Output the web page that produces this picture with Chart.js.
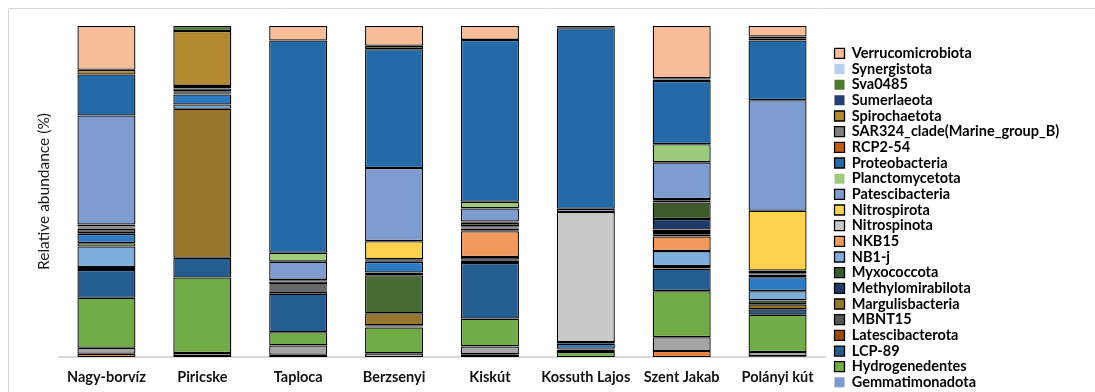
<!DOCTYPE html>
<html>
<head>
<meta charset="utf-8">
<script src="https://cdn.jsdelivr.net/npm/chart.js@4.4.1/dist/chart.umd.min.js"></script>
<style>
html,body{margin:0;padding:0;background:#fff;}
#wrap{width:1095px;height:392px;position:relative;}
</style>
</head>
<body>
<div id="wrap"><canvas id="c" width="1095" height="392"></canvas></div>
<script>
// ---------------- DATA (relative abundance, %) ----------------
const categories = ["Nagy-borvíz","Piricske","Taploca","Berzsenyi","Kiskút","Kossuth Lajos","Szent Jakab","Polányi kút"];

// stack order: bottom first
const unlabelledOrange     = [1.0, 0.3, 0.7, 0,    0.8, 0,    1.8, 0.2];
const unlabelledGrey       = [1.8, 0.9, 2.8, 1.1,  2.4, 0,    4.2, 1.3];
const gemmatimonadota      = [0,   0,   0,   0,    0,   0,    0,   0];
const hydrogenedentes      = [15.1,22.8,4.0, 7.8,  8.4, 1.5,  13.9,11.3];
const lcp89                = [8.4, 6.0, 11.6,0.35, 16.8,0.6,  6.8, 1.6];
const latescibacterota     = [0.3, 0,   0.8, 0.35, 0.6, 0.2,  0.8, 0];
const margulisbacteria     = [0.3, 45.0,0.3, 3.6,  0.2, 0.2,  0,   1.5];
const unlabelledDarkGreen  = [0.3, 0,   0.3, 11.5, 0,   0,    0,   1.2];
const nb1j                 = [6.2, 1.3, 0.3, 0.8,  0.2, 0,    4.5, 2.8];
const unlabelledLightGreen = [1.0, 0,   0,   0,    0,   0,    0,   0];
const unlabelledBlue       = [2.8, 3.0, 0.3, 3.2,  0.8, 1.5,  0,   4.2];
const nkb15                = [0.3, 0.25,0.3, 0.2,  7.8, 0,    4.4, 0.4];
const mbnt15               = [1.2, 0.25,0.3, 0.2,  0.3, 0.25, 0.7, 0.4];
const rcp254               = [0.15,0.25,0.3, 0.2,  0.5, 0,    0.7, 0.4];
const sar324               = [0.15,0,   0,   0,    0.3, 0,    0.7, 0.4];
const methylomirabilota    = [0.15,0.25,0,   0.2,  0.4, 0.25, 3.2, 0.4];
const myxococcota          = [0.15,0,   0.8, 0,    1.0, 0,    5.0, 0];
const nitrospinota         = [0.15,0,   0.25,0,    0.2, 39.3, 0.5, 0];
const nitrospirota         = [0.6, 0,   0.25,5.5,  0.2, 0,    0.5, 18.1];
const patescibacteria      = [32.9,0.8, 5.5, 22.1, 4.0, 1.0,  11.1,33.4];
const planctomycetota      = [0,   0,   2.7, 0,    2.0, 0,    5.5, 0];
const proteobacteria       = [12.4,0.8, 64.1,35.9, 48.9,54.5, 19.1,18.0];
const spirochaetota        = [1.4, 16.6,0,   0,    0,   0,    0,   0];
const sumerlaeota          = [0,   0,   0,   0,    0,   0.35, 0.4, 0];
const sva0485              = [0,   1.5, 0,   1.0,  0,   0,    0,   0.7];
const synergistota         = [0,   0,   0,   0,    0,   0.35, 0.4, 0.5];
const verrucomicrobiota    = [13.25,0,  4.4, 6.0,  4.2, 0,    15.8,3.2];

// legend entries, top to bottom
const legendOrder = ["Verrucomicrobiota","Synergistota","Sva0485","Sumerlaeota","Spirochaetota",
  "SAR324_clade(Marine_group_B)","RCP2-54","Proteobacteria","Planctomycetota","Patescibacteria",
  "Nitrospirota","Nitrospinota","NKB15","NB1-j","Myxococcota","Methylomirabilota","Margulisbacteria",
  "MBNT15","Latescibacterota","LCP-89","Hydrogenedentes","Gemmatimonadota"];

// ---------------- SERIES (bottom of stack first) ----------------
const series = [
  ["unlabelled (orange)", unlabelledOrange, "#ED7D31"],
  ["unlabelled (grey)", unlabelledGrey, "#A5A5A5"],
  ["Gemmatimonadota", gemmatimonadota, "#7E9AD3"],
  ["Hydrogenedentes", hydrogenedentes, "#70AD47"],
  ["LCP-89", lcp89, "#245E91"],
  ["Latescibacterota", latescibacterota, "#9E480E"],
  ["Margulisbacteria", margulisbacteria, "#98762E"],
  ["unlabelled (dark green)", unlabelledDarkGreen, "#466B33"],
  ["NB1-j", nb1j, "#7CAFDD"],
  ["unlabelled (light green)", unlabelledLightGreen, "#8CC168"],
  ["unlabelled (blue)", unlabelledBlue, "#2E7BC4"],
  ["NKB15", nkb15, "#F29A5C"],
  ["MBNT15", mbnt15, "#555555"],
  ["RCP2-54", rcp254, "#C55A11"],
  ["SAR324_clade(Marine_group_B)", sar324, "#7F7F7F"],
  ["Methylomirabilota", methylomirabilota, "#1F3A6A"],
  ["Myxococcota", myxococcota, "#3C5A2A"],
  ["Nitrospinota", nitrospinota, "#C8C8C8"],
  ["Nitrospirota", nitrospirota, "#FDD24C"],
  ["Patescibacteria", patescibacteria, "#7F9CD0"],
  ["Planctomycetota", planctomycetota, "#9DCB7C"],
  ["Proteobacteria", proteobacteria, "#236BA8"],
  ["Spirochaetota", spirochaetota, "#B38A2F"],
  ["Sumerlaeota", sumerlaeota, "#203F75"],
  ["Sva0485", sva0485, "#4F7A33"],
  ["Synergistota", synergistota, "#B4D0EC"],
  ["Verrucomicrobiota", verrucomicrobiota, "#F6BD97"]
];

// ---------------- LAYOUT ----------------
const W = 1095, H = 392;
const PLOT_LEFT = 58.5, PLOT_RIGHT = 825.5, PLOT_TOP = 26, PLOT_BOTTOM = 357;
const LEG_FONT = 14.5, LEG_BOX = 10, ROW = 15.67, LEG_PAD = ROW - LEG_FONT, LEG_BOX_X = 834.5;
const FIRST_ROW_CENTER = 53.3;
const legendFont = {family: "Lato", size: LEG_FONT, weight: "bold"};
const TITLE_FONT = 10, TITLE_LH = TITLE_FONT * 1.2;
const titlePadTop = FIRST_ROW_CENTER - PLOT_TOP - LEG_PAD - LEG_FONT / 2 - TITLE_LH;

const mctx = document.createElement("canvas").getContext("2d");
mctx.font = "bold " + LEG_FONT + "px Lato";
const maxText = Math.max(...legendOrder.map(t => mctx.measureText(t).width));
const legendWidth = LEG_PAD + LEG_BOX + LEG_FONT / 2 + maxText + 10;
const legendLeft = LEG_BOX_X - LEG_PAD;
const padRight = Math.max(0, W - legendLeft - legendWidth);

const framePlugin = {
  id: "frame",
  beforeDraw(chart) {
    const ctx = chart.ctx;
    ctx.save();
    ctx.fillStyle = "#fff";
    ctx.fillRect(0, 0, W, H);
    ctx.strokeStyle = "#D9D9D9";
    ctx.lineWidth = 1;
    ctx.beginPath();
    ctx.moveTo(8.5, H);
    ctx.lineTo(8.5, 8.5);
    ctx.lineTo(W, 8.5);
    ctx.stroke();
    ctx.restore();
  }
};

new Chart(document.getElementById("c"), {
  type: "bar",
  data: {
    labels: categories,
    datasets: series.map(([label, data, color]) => ({
      label, data,
      backgroundColor: color,
      borderColor: "#000",
      borderWidth: (ctx) => ctx.type === "data" ? (ctx.raw ? 1.3 : 0) : 1,
      borderSkipped: false,
      inflateAmount: 0,
      barPercentage: 0.605,
      categoryPercentage: 1.0
    }))
  },
  options: {
    responsive: false,
    animation: false,
    devicePixelRatio: 1,
    layout: {padding: {top: PLOT_TOP, left: 0, bottom: 0, right: padRight}},
    plugins: {
      tooltip: {enabled: false},
      legend: {
        position: "right",
        align: "start",
        maxWidth: 400,
        title: {display: true, text: " ", font: {size: TITLE_FONT}, padding: {top: titlePadTop, bottom: 0}},
        labels: {
          boxWidth: LEG_BOX,
          boxHeight: LEG_BOX,
          padding: LEG_PAD,
          color: "#000",
          font: legendFont,
          filter: (item) => legendOrder.includes(item.text),
          sort: (a, b) => legendOrder.indexOf(a.text) - legendOrder.indexOf(b.text)
        }
      }
    },
    scales: {
      x: {
        stacked: true,
        grid: {display: false, drawTicks: false},
        border: {display: true, color: "#D9D9D9", width: 2},
        ticks: {color: "#111", font: {family: "Lato", size: 14.5, weight: "bold"}, padding: 12, maxRotation: 0, autoSkip: false},
        afterFit: (s) => { s.height = H - PLOT_BOTTOM; }
      },
      y: {
        stacked: true,
        min: 0, max: 100,
        grid: {display: false, drawTicks: false},
        border: {display: false},
        ticks: {display: false},
        title: {display: true, text: "Relative abundance (%)", color: "#1a1a1a",
                font: {family: "Lato", size: 15.5}, padding: {top: 35, bottom: 0}},
        afterFit: (s) => { s.width = PLOT_LEFT; }
      },
      gap: {
        type: "linear",
        position: "right",
        display: true,
        grid: {display: false, drawTicks: false},
        border: {display: false},
        ticks: {display: false},
        afterFit: (s) => { s.width = legendLeft - PLOT_RIGHT; }
      }
    }
  },
  plugins: [framePlugin]
});
</script>
</body>
</html>
